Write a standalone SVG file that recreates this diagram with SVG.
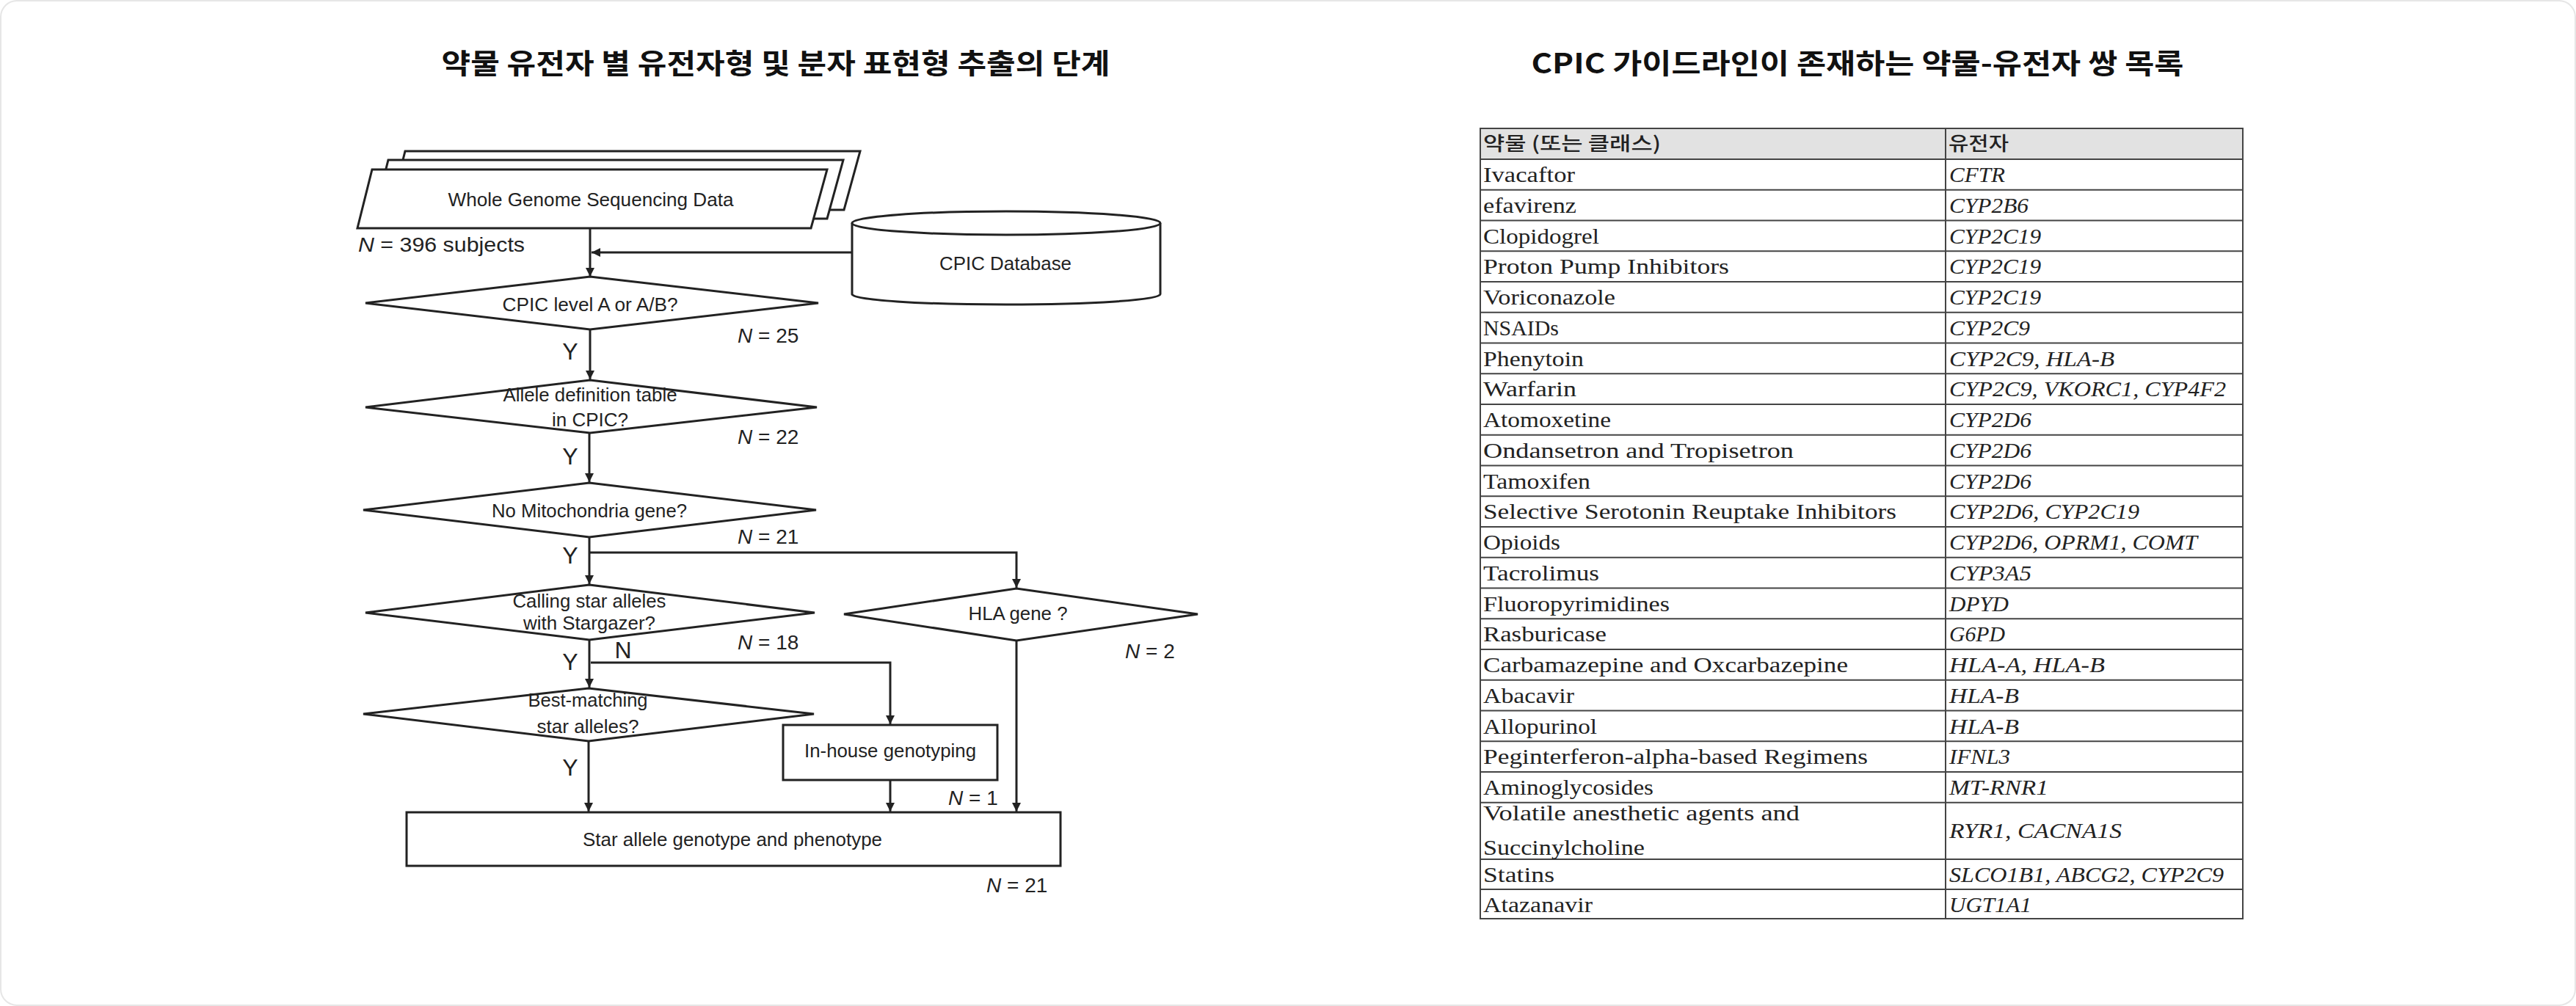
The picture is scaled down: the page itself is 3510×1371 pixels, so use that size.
<svg xmlns="http://www.w3.org/2000/svg" width="3510" height="1371" viewBox="0 0 3510 1371">
<style>
.ln{stroke:#222;stroke-width:3;fill:none}
.sh{fill:#fff;stroke:#222;stroke-width:3}
.ft{font-family:"Liberation Sans",Arial,sans-serif;font-size:26px;fill:#222}
.ftc{font-family:"Liberation Sans",Arial,sans-serif;font-size:26px;fill:#222;text-anchor:middle}
.yl{font-family:"Liberation Sans",Arial,sans-serif;font-size:32px;fill:#222;text-anchor:middle}
.nl{font-family:"Liberation Sans",Arial,sans-serif;font-size:28px;fill:#222}
.it{font-style:italic}
.tb{font-family:"Liberation Serif","Noto Sans CJK KR",serif;font-size:30px;fill:#222}
.gn{font-family:"Liberation Serif",serif;font-size:30px;fill:#222;font-style:italic}
.th{font-family:"Noto Sans CJK KR",sans-serif;font-size:26px;fill:#222;font-weight:500}
.title{font-family:"Noto Sans CJK KR",sans-serif;font-weight:700;font-size:38px;fill:#111;text-anchor:middle}
.grid{stroke:#444;stroke-width:2;fill:none}
</style>
<defs>
<marker id="ah" viewBox="0 0 10 10" refX="10" refY="5" markerWidth="4" markerHeight="4" orient="auto" markerUnits="strokeWidth">
<path d="M0,0 L10,5 L0,10 z" fill="#222"/>
</marker>
</defs>
<rect x="1" y="1" width="3508" height="1369" rx="22" fill="#fff" stroke="#e6e6e6" stroke-width="2"/>

<text class="title" x="1057" y="100" textLength="911" lengthAdjust="spacingAndGlyphs">약물 유전자 별 유전자형 및 분자 표현형 추출의 단계</text>
<text class="title" x="2531" y="100" textLength="889" lengthAdjust="spacingAndGlyphs">CPIC 가이드라인이 존재하는 약물-유전자 쌍 목록</text>

<g id="connectors">
<path class="ln" d="M804,311 V377" marker-end="url(#ah)"/>
<path class="ln" d="M1161,344 H806" marker-end="url(#ah)"/>
<path class="ln" d="M804,449 V517" marker-end="url(#ah)"/>
<path class="ln" d="M803,590 V657" marker-end="url(#ah)"/>
<path class="ln" d="M803,732 V796" marker-end="url(#ah)"/>
<path class="ln" d="M803,753 H1385 V801" marker-end="url(#ah)"/>
<path class="ln" d="M803,872 V937" marker-end="url(#ah)"/>
<path class="ln" d="M805,903 H1213 V987" marker-end="url(#ah)"/>
<path class="ln" d="M802,1010 V1106" marker-end="url(#ah)"/>
<path class="ln" d="M1213,1063 V1106" marker-end="url(#ah)"/>
<path class="ln" d="M1385,873 V1106" marker-end="url(#ah)"/>
</g>

<g id="wgs">
<polygon class="sh" points="552,206 1172,206 1150,286 532,286"/>
<polygon class="sh" points="529,218 1149,218 1127,298 509,298"/>
<polygon class="sh" points="507,231 1127,231 1105,311 487,311"/>
<text class="ftc" x="805" y="281" textLength="389" lengthAdjust="spacingAndGlyphs">Whole Genome Sequencing Data</text>
</g>
<text class="nl" x="488" y="343" textLength="227" lengthAdjust="spacingAndGlyphs"><tspan class="it">N</tspan> = 396 subjects</text>

<g id="cpicdb">
<path class="sh" d="M1161,304 V401 A210,14 0 0 0 1581,401 V304"/>
<ellipse class="sh" cx="1371" cy="304" rx="210" ry="16"/>
<text class="ftc" x="1370" y="368" textLength="180" lengthAdjust="spacingAndGlyphs">CPIC Database</text>
</g>

<g id="d1">
<polygon class="sh" points="804,377 1115,413 804,449 498,413"/>
<text class="ftc" x="804" y="424" textLength="239" lengthAdjust="spacingAndGlyphs">CPIC level A or A/B?</text>
</g>
<text class="nl" x="1005" y="467"><tspan class="it">N</tspan> = 25</text>
<text class="yl" x="777" y="490">Y</text>

<g id="d2">
<polygon class="sh" points="804,518 1113,555 804,590 498,555"/>
<text class="ftc" x="804" y="547" textLength="237" lengthAdjust="spacingAndGlyphs">Allele definition table</text>
<text class="ftc" x="804" y="581">in CPIC?</text>
</g>
<text class="nl" x="1005" y="605"><tspan class="it">N</tspan> = 22</text>
<text class="yl" x="777" y="633">Y</text>

<g id="d3">
<polygon class="sh" points="803,658 1112,695 803,732 495,695"/>
<text class="ftc" x="803" y="705" textLength="266" lengthAdjust="spacingAndGlyphs">No Mitochondria gene?</text>
</g>
<text class="nl" x="1005" y="741"><tspan class="it">N</tspan> = 21</text>
<text class="yl" x="777" y="768">Y</text>

<g id="d4">
<polygon class="sh" points="803,797 1110,835 803,872 498,835"/>
<text class="ftc" x="803" y="828" textLength="209" lengthAdjust="spacingAndGlyphs">Calling star alleles</text>
<text class="ftc" x="803" y="858" textLength="180" lengthAdjust="spacingAndGlyphs">with Stargazer?</text>
</g>
<text class="nl" x="1005" y="885"><tspan class="it">N</tspan> = 18</text>
<text class="yl" x="849" y="897">N</text>
<text class="yl" x="777" y="913">Y</text>

<g id="hla">
<polygon class="sh" points="1385,802 1632,837 1385,873 1150,837"/>
<text class="ftc" x="1387" y="845" textLength="135" lengthAdjust="spacingAndGlyphs">HLA gene ?</text>
</g>
<text class="nl" x="1533" y="897"><tspan class="it">N</tspan> = 2</text>

<g id="d5">
<polygon class="sh" points="802,938 1109,973 802,1010 495,973"/>
<text class="ftc" x="801" y="963" textLength="163" lengthAdjust="spacingAndGlyphs">Best-matching</text>
<text class="ftc" x="801" y="999" textLength="139" lengthAdjust="spacingAndGlyphs">star alleles?</text>
</g>
<text class="yl" x="777" y="1057">Y</text>

<g id="inhouse">
<rect class="sh" x="1067" y="988" width="292" height="75"/>
<text class="ftc" x="1213" y="1032" textLength="234" lengthAdjust="spacingAndGlyphs">In-house genotyping</text>
</g>
<text class="nl" x="1292" y="1097"><tspan class="it">N</tspan> = 1</text>

<g id="result">
<rect class="sh" x="554" y="1107" width="891" height="73"/>
<text class="ftc" x="998" y="1153" textLength="408" lengthAdjust="spacingAndGlyphs">Star allele genotype and phenotype</text>
</g>
<text class="nl" x="1344" y="1216"><tspan class="it">N</tspan> = 21</text>

<g id="table">
<rect x="2017" y="175" width="1039" height="42" fill="#e2e2e2"/>
<rect class="grid" x="2017" y="175" width="1039" height="1077" stroke-width="3"/>
<path class="grid" d="M2651,175 V1252
M2017,217 H3056 M2017,258.75 H3056 M2017,300.5 H3056 M2017,342.25 H3056 M2017,384 H3056 M2017,425.75 H3056 M2017,467.5 H3056 M2017,509.25 H3056 M2017,551 H3056 M2017,592.75 H3056 M2017,634.5 H3056 M2017,676.25 H3056 M2017,718 H3056 M2017,759.75 H3056 M2017,801.5 H3056 M2017,843.25 H3056 M2017,885 H3056 M2017,926.75 H3056 M2017,968.5 H3056 M2017,1010.25 H3056 M2017,1052 H3056 M2017,1093.75 H3056 M2017,1171 H3056 M2017,1212 H3056"/>
<text class="th" x="2021" y="205" textLength="242" lengthAdjust="spacingAndGlyphs">약물 (또는 클래스)</text>
<text class="th" x="2655" y="205" textLength="82" lengthAdjust="spacingAndGlyphs">유전자</text>

<text class="tb" x="2021" y="248" textLength="125" lengthAdjust="spacingAndGlyphs">Ivacaftor</text>
<text class="gn" x="2656" y="248" textLength="76" lengthAdjust="spacingAndGlyphs">CFTR</text>
<text class="tb" x="2021" y="290" textLength="127" lengthAdjust="spacingAndGlyphs">efavirenz</text>
<text class="gn" x="2656" y="290" textLength="108" lengthAdjust="spacingAndGlyphs">CYP2B6</text>
<text class="tb" x="2021" y="331.5" textLength="158" lengthAdjust="spacingAndGlyphs">Clopidogrel</text>
<text class="gn" x="2656" y="331.5" textLength="125" lengthAdjust="spacingAndGlyphs">CYP2C19</text>
<text class="tb" x="2021" y="373" textLength="335" lengthAdjust="spacingAndGlyphs">Proton Pump Inhibitors</text>
<text class="gn" x="2656" y="373" textLength="125" lengthAdjust="spacingAndGlyphs">CYP2C19</text>
<text class="tb" x="2021" y="415" textLength="180" lengthAdjust="spacingAndGlyphs">Voriconazole</text>
<text class="gn" x="2656" y="415" textLength="125" lengthAdjust="spacingAndGlyphs">CYP2C19</text>
<text class="tb" x="2021" y="457" textLength="103" lengthAdjust="spacingAndGlyphs">NSAIDs</text>
<text class="gn" x="2656" y="457" textLength="110" lengthAdjust="spacingAndGlyphs">CYP2C9</text>
<text class="tb" x="2021" y="498.5" textLength="137" lengthAdjust="spacingAndGlyphs">Phenytoin</text>
<text class="gn" x="2656" y="498.5" textLength="225" lengthAdjust="spacingAndGlyphs">CYP2C9, HLA-B</text>
<text class="tb" x="2021" y="540" textLength="127" lengthAdjust="spacingAndGlyphs">Warfarin</text>
<text class="gn" x="2656" y="540" textLength="377" lengthAdjust="spacingAndGlyphs">CYP2C9, VKORC1, CYP4F2</text>
<text class="tb" x="2021" y="582" textLength="174" lengthAdjust="spacingAndGlyphs">Atomoxetine</text>
<text class="gn" x="2656" y="582" textLength="112" lengthAdjust="spacingAndGlyphs">CYP2D6</text>
<text class="tb" x="2021" y="624" textLength="423" lengthAdjust="spacingAndGlyphs">Ondansetron and Tropisetron</text>
<text class="gn" x="2656" y="624" textLength="112" lengthAdjust="spacingAndGlyphs">CYP2D6</text>
<text class="tb" x="2021" y="665.5" textLength="146" lengthAdjust="spacingAndGlyphs">Tamoxifen</text>
<text class="gn" x="2656" y="665.5" textLength="112" lengthAdjust="spacingAndGlyphs">CYP2D6</text>
<text class="tb" x="2021" y="707" textLength="563" lengthAdjust="spacingAndGlyphs">Selective Serotonin Reuptake Inhibitors</text>
<text class="gn" x="2656" y="707" textLength="259" lengthAdjust="spacingAndGlyphs">CYP2D6, CYP2C19</text>
<text class="tb" x="2021" y="749" textLength="105" lengthAdjust="spacingAndGlyphs">Opioids</text>
<text class="gn" x="2656" y="749" textLength="338" lengthAdjust="spacingAndGlyphs">CYP2D6, OPRM1, COMT</text>
<text class="tb" x="2021" y="791" textLength="158" lengthAdjust="spacingAndGlyphs">Tacrolimus</text>
<text class="gn" x="2656" y="791" textLength="112" lengthAdjust="spacingAndGlyphs">CYP3A5</text>
<text class="tb" x="2021" y="832.5" textLength="254" lengthAdjust="spacingAndGlyphs">Fluoropyrimidines</text>
<text class="gn" x="2656" y="832.5" textLength="81" lengthAdjust="spacingAndGlyphs">DPYD</text>
<text class="tb" x="2021" y="874" textLength="168" lengthAdjust="spacingAndGlyphs">Rasburicase</text>
<text class="gn" x="2656" y="874" textLength="76" lengthAdjust="spacingAndGlyphs">G6PD</text>
<text class="tb" x="2021" y="916" textLength="497" lengthAdjust="spacingAndGlyphs">Carbamazepine and Oxcarbazepine</text>
<text class="gn" x="2656" y="916" textLength="212" lengthAdjust="spacingAndGlyphs">HLA-A, HLA-B</text>
<text class="tb" x="2021" y="958" textLength="124" lengthAdjust="spacingAndGlyphs">Abacavir</text>
<text class="gn" x="2656" y="958" textLength="95" lengthAdjust="spacingAndGlyphs">HLA-B</text>
<text class="tb" x="2021" y="999.5" textLength="155" lengthAdjust="spacingAndGlyphs">Allopurinol</text>
<text class="gn" x="2656" y="999.5" textLength="95" lengthAdjust="spacingAndGlyphs">HLA-B</text>
<text class="tb" x="2021" y="1041" textLength="524" lengthAdjust="spacingAndGlyphs">Peginterferon-alpha-based Regimens</text>
<text class="gn" x="2656" y="1041" textLength="83" lengthAdjust="spacingAndGlyphs">IFNL3</text>
<text class="tb" x="2021" y="1083" textLength="232" lengthAdjust="spacingAndGlyphs">Aminoglycosides</text>
<text class="gn" x="2656" y="1083" textLength="135" lengthAdjust="spacingAndGlyphs">MT-RNR1</text>
<text class="tb" x="2021" y="1118" textLength="431" lengthAdjust="spacingAndGlyphs">Volatile anesthetic agents and</text>
<text class="tb" x="2021" y="1165" textLength="220" lengthAdjust="spacingAndGlyphs">Succinylcholine</text>
<text class="gn" x="2656" y="1142" textLength="235" lengthAdjust="spacingAndGlyphs">RYR1, CACNA1S</text>
<text class="tb" x="2021" y="1202" textLength="97" lengthAdjust="spacingAndGlyphs">Statins</text>
<text class="gn" x="2656" y="1202" textLength="374" lengthAdjust="spacingAndGlyphs">SLCO1B1, ABCG2, CYP2C9</text>
<text class="tb" x="2021" y="1243" textLength="149" lengthAdjust="spacingAndGlyphs">Atazanavir</text>
<text class="gn" x="2656" y="1243" textLength="112" lengthAdjust="spacingAndGlyphs">UGT1A1</text>
</g>
</svg>
